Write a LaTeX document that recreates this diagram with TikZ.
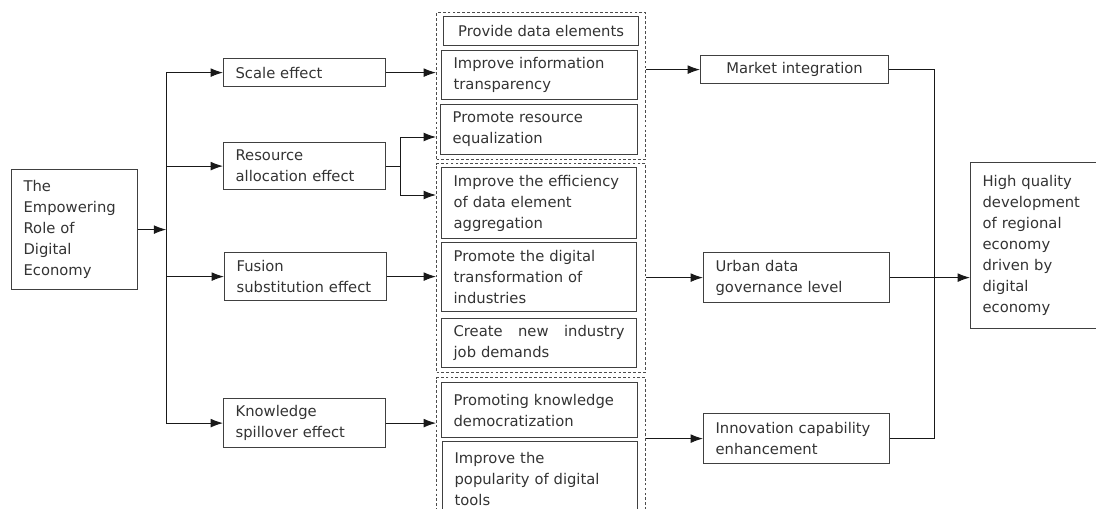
\documentclass[tikz,border=0pt]{standalone}
\usepackage{fontspec}
\setmainfont{DejaVu Sans}
\usetikzlibrary{positioning,calc,arrows.meta}

\begin{document}
\begin{tikzpicture}[
    x=0.02cm, y=-0.02cm,
    bx/.style={draw=black!75, line width=0.7pt, anchor=north west, align=left, inner xsep=0.24cm, inner ysep=0pt, text=black!80, font=\fontsize{8.4}{11.9}\selectfont},
    grp/.style={draw=black!70, line width=0.6pt, dash pattern=on 1.6pt off 1.2pt, anchor=north west, minimum width=4.18cm, inner sep=0pt},
    arr/.style={draw=black!90, line width=0.55pt, -{Latex[length=7pt,width=5pt]}},
    ln/.style={draw=black!90, line width=0.55pt}
]
    \useasboundingbox (0,0) rectangle (1096,509);

    % Source
    \node [bx, text width=2.04cm, minimum height=2.4cm] (root) at (11,169) {The\\Empowering\\Role of\\Digital\\Economy};

    % Effects
    \node [bx, text width=2.76cm, minimum height=0.56cm] (scale) at (223,58) {Scale effect};
    \node [bx, text width=2.76cm, minimum height=0.94cm] (res) at (223,142) {Resource\\allocation effect};
    \node [bx, text width=2.76cm, minimum height=0.96cm] (fus) at (224,252) {Fusion\\substitution effect};
    \node [bx, text width=2.76cm, minimum height=0.98cm] (know) at (223,398) {Knowledge\\spillover effect};

    % Dashed groups
    \node [grp, minimum height=2.94cm] (g1) at (436,12) {};
    \node [grp, minimum height=4.18cm] (g2) at (436,163) {};
    \node [grp, minimum height=2.9cm] (g3) at (436,377) {};

    % Mechanisms
    \node [bx, align=center, minimum width=3.9cm, minimum height=0.58cm] (prov) at (443,16) {Provide data elements};
    \node [bx, text width=3.44cm, minimum height=0.98cm] (info) at (441,50) {Improve information\\transparency};
    \node [bx, text width=3.46cm, minimum height=1.0cm] (equal) at (440,104) {Promote resource\\equalization};
    \node [bx, text width=3.42cm, minimum height=1.42cm] (effi) at (441,167) {Improve the efficiency\\of data element\\aggregation};
    \node [bx, text width=3.42cm, minimum height=1.38cm] (trans) at (441,242) {Promote the digital\\transformation of\\industries};
    \node [bx, text width=3.42cm, minimum height=0.98cm] (job) at (441,318) {Create\hfill new\hfill industry\\job demands};
    \node [bx, text width=3.44cm, minimum height=1.1cm] (demo) at (441,382) {Promoting knowledge\\democratization};
    \node [bx, text width=3.42cm, minimum height=1.48cm] (tool) at (442,441) {Improve the\\popularity of digital\\tools};

    % Channels
    \node [bx, align=center, minimum width=3.76cm, minimum height=0.56cm] (mkt) at (700,55) {Market integration};
    \node [bx, text width=3.24cm, minimum height=1.0cm] (urb) at (703,252) {Urban data\\governance level};
    \node [bx, text width=3.24cm, minimum height=1.0cm] (inn) at (703,413) {Innovation capability\\enhancement};

    % Outcome
    \node [bx, text width=2.12cm, minimum height=3.32cm] (fin) at (970,162) {High quality\\development\\of regional\\economy\\driven by\\digital\\economy};

    % Left connectors
    \coordinate [right=0.56cm of root.east] (tr);
    \draw [arr] (root.east) -- (tr);
    \draw [arr] (tr) |- (scale.west);
    \draw [arr] (tr) |- (res.west);
    \draw [arr] (tr) |- (fus.west);
    \draw [arr] (tr) |- (know.west);

    % Effects to groups
    \draw [arr] (scale.east) -- (scale.east -| g1.west);
    \coordinate (fk) at (400,165);
    \coordinate (ra) at (436,137);
    \coordinate (rb) at (436,195);
    \draw [ln] (res.east) -- (res.east -| fk);
    \draw [arr] (fk) |- (ra);
    \draw [arr] (fk) |- (rb);
    \draw [arr] (fus.east) -- (fus.east -| g2.west);
    \draw [arr] (know.east) -- (know.east -| g3.west);

    % Groups to channels
    \draw [arr] (mkt.west -| g1.east) -- (mkt.west);
    \draw [arr] (urb.west -| g2.east) -- (urb.west);
    \draw [arr] (inn.west -| g3.east) -- (inn.west);

    % Channels to outcome
    \coordinate (bus) at (934,69);
    \draw [ln] (mkt.east) -- (mkt.east -| bus) -- (inn.east -| bus) -- (inn.east);
    \draw [arr] (urb.east) -- (urb.east -| fin.west);
\end{tikzpicture}
\end{document}
